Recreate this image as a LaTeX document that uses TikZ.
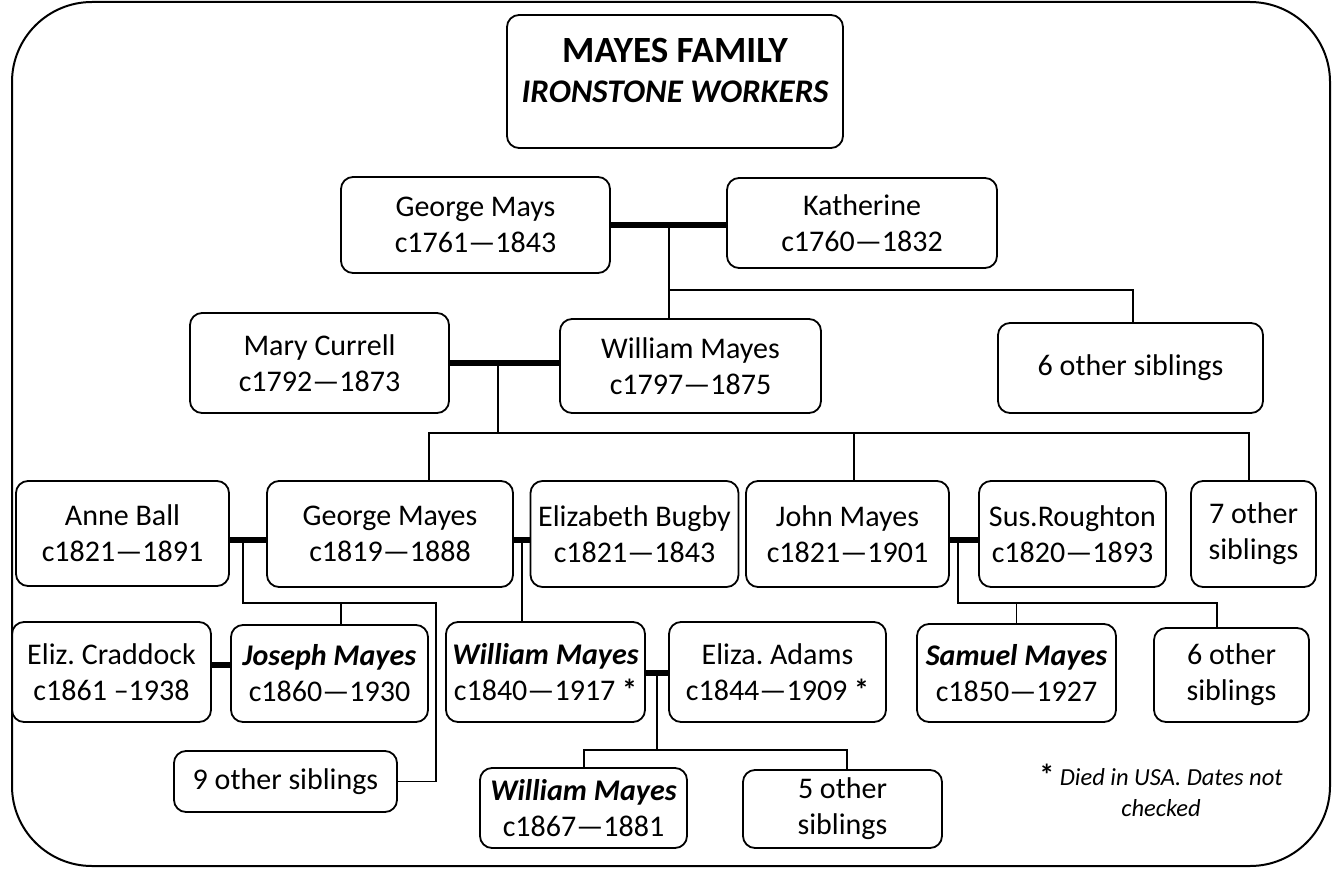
\documentclass[tikz,border=0pt]{standalone}
\usepackage{fontspec}
\setmainfont{Carlito}
\begin{document}
\frenchspacing
\begin{tikzpicture}[x=1pt,y=-1pt,
  box/.style={draw,line width=1.8pt,rounded corners=12pt,align=center,inner sep=0pt,
    font=\fontsize{30}{36}\selectfont},
  thin/.style={line width=1.6pt},
  marr/.style={line width=5.5pt}]
\useasboundingbox (0,0) rectangle (1343,869);
\draw[line width=2pt,rounded corners=80pt] (12,2) rectangle (1330,866);

\node[box,minimum width=336,minimum height=133] (title) at (675,81.5) {};
\node[align=center,inner sep=0pt,font=\fontsize{37}{40}\selectfont\bfseries] (titletext) at (675,70)
  {MAYES FAMILY\\{\fontsize{33}{40}\selectfont\itshape IRONSTONE WORKERS}};

\node[box,minimum width=269,minimum height=96] (gmays) at (475.5,225) {George Mays\\c1761—1843};
\node[box,minimum width=270,minimum height=90] (kath) at (862,223) {Katherine\\c1760—1832};
\node[box,minimum width=259,minimum height=100] (mary) at (319.5,363) {Mary Currell\\c1792—1873};
\node[box,minimum width=261,minimum height=94] (wm1) at (690.5,366) {William Mayes\\c1797—1875};
\node[box,minimum width=265,minimum height=90] (six1) at (1130.5,368) {6 other siblings};

\node[box,minimum width=213,minimum height=105] (anne) at (122.5,533.5) {Anne Ball\\c1821—1891};
\node[box,minimum width=246,minimum height=106] (geo) at (390,534) {George Mayes\\c1819—1888};
\node[box,minimum width=208,minimum height=106] (eliz) at (634.5,534) {Elizabeth Bugby\\c1821—1843};
\node[box,minimum width=203,minimum height=106] (john) at (847.5,534) {John Mayes\\c1821—1901};
\node[box,minimum width=187,minimum height=106] (sus) at (1072.5,534) {Sus.Roughton\\c1820—1893};
\node[box,minimum width=125,minimum height=106] (seven) at (1253.5,534) {7 other\\siblings};

\node[box,minimum width=199,minimum height=100] (crad) at (111.5,672) {Eliz. Craddock\\c1861 –1938};
\node[box,minimum width=197,minimum height=97] (joseph) at (329.5,673.5) {\textbf{\textit{Joseph Mayes}}\\c1860—1930};
\node[box,minimum width=199,minimum height=100] (wm2) at (545.5,672) {\textbf{\textit{William Mayes}}\\c1840—1917 \textbf{*}};
\node[box,minimum width=217,minimum height=100] (adams) at (777.5,672) {Eliza. Adams\\c1844—1909 \textbf{*}};
\node[box,minimum width=199,minimum height=98] (samuel) at (1016.5,673) {\textbf{\textit{Samuel Mayes}}\\c1850—1927};
\node[box,minimum width=155,minimum height=94] (six2) at (1231.5,675) {6 other\\siblings};

\node[box,minimum width=223,minimum height=61] (nine) at (285.5,781.5) {9 other siblings};
\node[box,minimum width=207,minimum height=80] (wm3) at (583.5,808) {\textbf{\textit{William Mayes}}\\c1867—1881};
\node[box,minimum width=199,minimum height=78] (five) at (842.5,809) {5 other\\siblings};

\node[align=center,inner sep=0pt,font=\fontsize{24.5}{31}\selectfont\itshape] (note) at (1161,790)
  {{\upshape\bfseries\fontsize{30}{31}\selectfont *} Died in USA. Dates not\\checked};

% generation 1
\coordinate (m1) at (669,225);
\coordinate (b1) at (669,290);
\draw[marr] (gmays.east) -- (gmays.east -| kath.west);
\draw[thin] (m1) -- (m1 |- wm1.north);
\draw[thin] (b1) -| ([xshift=2.5]six1.north);

% generation 2
\coordinate (m2) at (498,364);
\coordinate (b2) at (498,433);
\draw[marr] (mary.east) -- (mary.east -| wm1.west);
\draw[thin] (m2) -- (b2);
\draw[thin] ([xshift=39]geo.north) |- (b2) -| ([xshift=-4.5]seven.north);
\draw[thin] (b2 -| john.north) ++(6.5,0) -- ([xshift=6.5]john.north);

% George + Anne
\coordinate (m3) at (243,540);
\coordinate (b3) at (243,603);
\coordinate (r3) at (436,603);
\draw[marr] (anne.east |- m3) -- (geo.west |- m3);
\draw[thin] (m3) -- (b3) -- (r3) |- (nine.east);
\draw[thin] ([xshift=11.5]b3 -| joseph.north) -- ([xshift=11.5]joseph.north);

% George + Elizabeth
\coordinate (m4) at (522,540);
\draw[marr] (geo.east |- m4) -- (eliz.west |- m4);
\draw[thin] (m4) -- (m4 |- wm2.north);

% John + Susanna
\coordinate (m5) at (958,540);
\coordinate (b5) at (958,603);
\draw[marr] (john.east |- m5) -- (sus.west |- m5);
\draw[thin] (m5) -- (b5) -| ([xshift=-14.5]six2.north);
\draw[thin] (b5 -| samuel.north) -- (samuel.north);

% Joseph + Craddock
\draw[marr] (crad.east |- 0,665) -- (joseph.west |- 0,665);

% William + Adams
\coordinate (m6) at (657,673);
\coordinate (b6) at (657,750);
\draw[marr] (wm2.east |- m6) -- (adams.west |- m6);
\draw[thin] (m6) -- (b6);
\draw[thin] ([xshift=0.5]wm3.north) |- (b6) -| ([xshift=4.5]five.north);
\end{tikzpicture}
\end{document}
